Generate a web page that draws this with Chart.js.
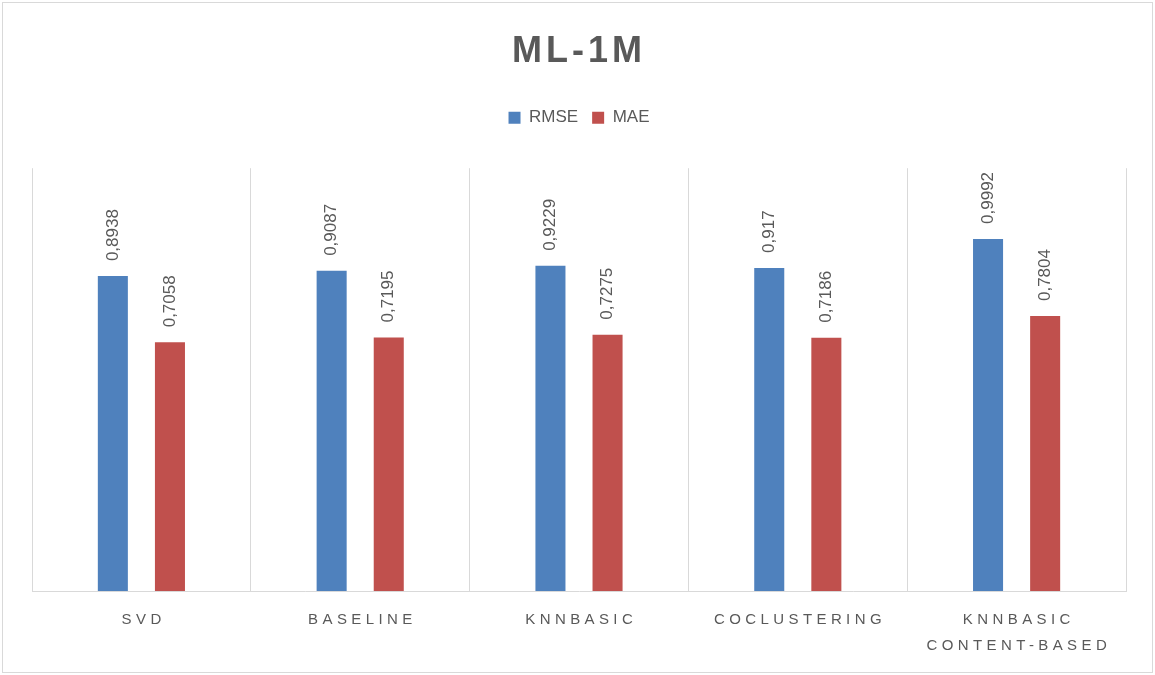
<!DOCTYPE html>
<html>
<head>
<meta charset="utf-8">
<script src="https://cdn.jsdelivr.net/npm/chart.js@4/dist/chart.umd.min.js"></script>
<style>
  html, body { margin: 0; padding: 0; background: #fff; }
  #wrap { width: 1155px; height: 675px; position: relative; }
</style>
</head>
<body>
<div id="wrap"><canvas id="chart" width="1155" height="675"></canvas></div>
<script>
/* ML-1M error comparison */

const categories = [
    ['SVD'],
    ['BASELINE'],
    ['KNNBASIC'],
    ['COCLUSTERING'],
    ['KNNBASIC', 'CONTENT-BASED']
];
const rmseValues = [0.8938, 0.9087, 0.9229, 0.917, 0.9992];
const maeValues = [0.7058, 0.7195, 0.7275, 0.7186, 0.7804];

const textColor = '#595959';
const gridColor = '#d9d9d9';
const baseFont = "'Liberation Sans', Arial, sans-serif";

// frame around the whole picture
const framePlugin = {
    id: 'frame',
    beforeDraw(chart) {
        const ctx = chart.ctx;
        ctx.save();
        ctx.fillStyle = '#fff';
        ctx.fillRect(0, 0, chart.width, chart.height);
        ctx.strokeStyle = gridColor;
        ctx.lineWidth = 1;
        ctx.strokeRect(2.5, 2.5, chart.width - 5, chart.height - 5);
        ctx.restore();
    }
};

// extra gap under the legend + spaced title
const tweaks = {
    id: 'tweaks',
    afterInit(chart) {
        const legend = chart.legend;
        const fit = legend.fit;
        legend.fit = function () {
            fit.call(this);
            this.height += 32;
        };
        const title = chart.titleBlock;
        const draw = title.draw;
        title.draw = function () {
            chart.ctx.save();
            chart.ctx.letterSpacing = '4px';
            draw.call(this);
            chart.ctx.restore();
        };
    }
};

// rotated value labels above bars
const valueLabels = {
    id: 'valueLabels',
    afterDatasetsDraw(chart) {
        const ctx = chart.ctx;
        ctx.save();
        ctx.font = '17px ' + baseFont;
        ctx.fillStyle = textColor;
        ctx.textAlign = 'left';
        ctx.textBaseline = 'middle';
        chart.data.datasets.forEach((ds, di) => {
            chart.getDatasetMeta(di).data.forEach((bar, i) => {
                const txt = String(ds.data[i]).replace('.', ',');
                ctx.save();
                ctx.translate(bar.x, bar.y - 15);
                ctx.rotate(-Math.PI / 2);
                ctx.fillText(txt, 0, 0);
                ctx.restore();
            });
        });
        ctx.restore();
    }
};

// spaced-out category labels under the axis
const categoryLabels = {
    id: 'categoryLabels',
    afterDraw(chart) {
        const ctx = chart.ctx;
        const xScale = chart.scales.x;
        const spacing = 4.4;
        ctx.save();
        ctx.font = '15px ' + baseFont;
        ctx.fillStyle = textColor;
        ctx.textAlign = 'center';
        ctx.textBaseline = 'middle';
        ctx.letterSpacing = spacing + 'px';
        categories.forEach((lines, i) => {
            const x = xScale.getPixelForValue(i) + spacing / 2;
            lines.forEach((line, j) => {
                ctx.fillText(line, x, chart.chartArea.bottom + 29 + j * 26);
            });
        });
        ctx.restore();
    }
};

new Chart(document.getElementById('chart'), {
    type: 'bar',
    data: {
        labels: categories,
        datasets: [
            {
                label: 'RMSE',
                data: rmseValues,
                backgroundColor: '#4f81bd',
                categoryPercentage: 0.522,
                barPercentage: 0.526
            },
            {
                label: 'MAE',
                data: maeValues,
                backgroundColor: '#c0504d',
                categoryPercentage: 0.522,
                barPercentage: 0.526
            }
        ]
    },
    options: {
        responsive: false,
        animation: false,
        layout: {
            padding: { left: 32, right: 29, top: 0, bottom: 84 }
        },
        scales: {
            x: {
                grid: {
                    offset: true,
                    color: gridColor,
                    lineWidth: 1,
                    drawTicks: false
                },
                border: { display: true, color: gridColor, width: 1 },
                ticks: { display: false }
            },
            y: {
                display: false,
                min: 0,
                max: 1.2
            }
        },
        plugins: {
            title: {
                display: true,
                text: 'ML-1M',
                color: textColor,
                font: { family: baseFont, size: 36, weight: 'bold' },
                padding: { top: 30, bottom: 22 }
            },
            legend: {
                position: 'top',
                labels: {
                    color: textColor,
                    font: { family: baseFont, size: 17 },
                    boxWidth: 12,
                    boxHeight: 12,
                    padding: 14
                }
            },
            tooltip: { enabled: false }
        }
    },
    plugins: [framePlugin, tweaks, valueLabels, categoryLabels]
});
</script>
</body>
</html>
